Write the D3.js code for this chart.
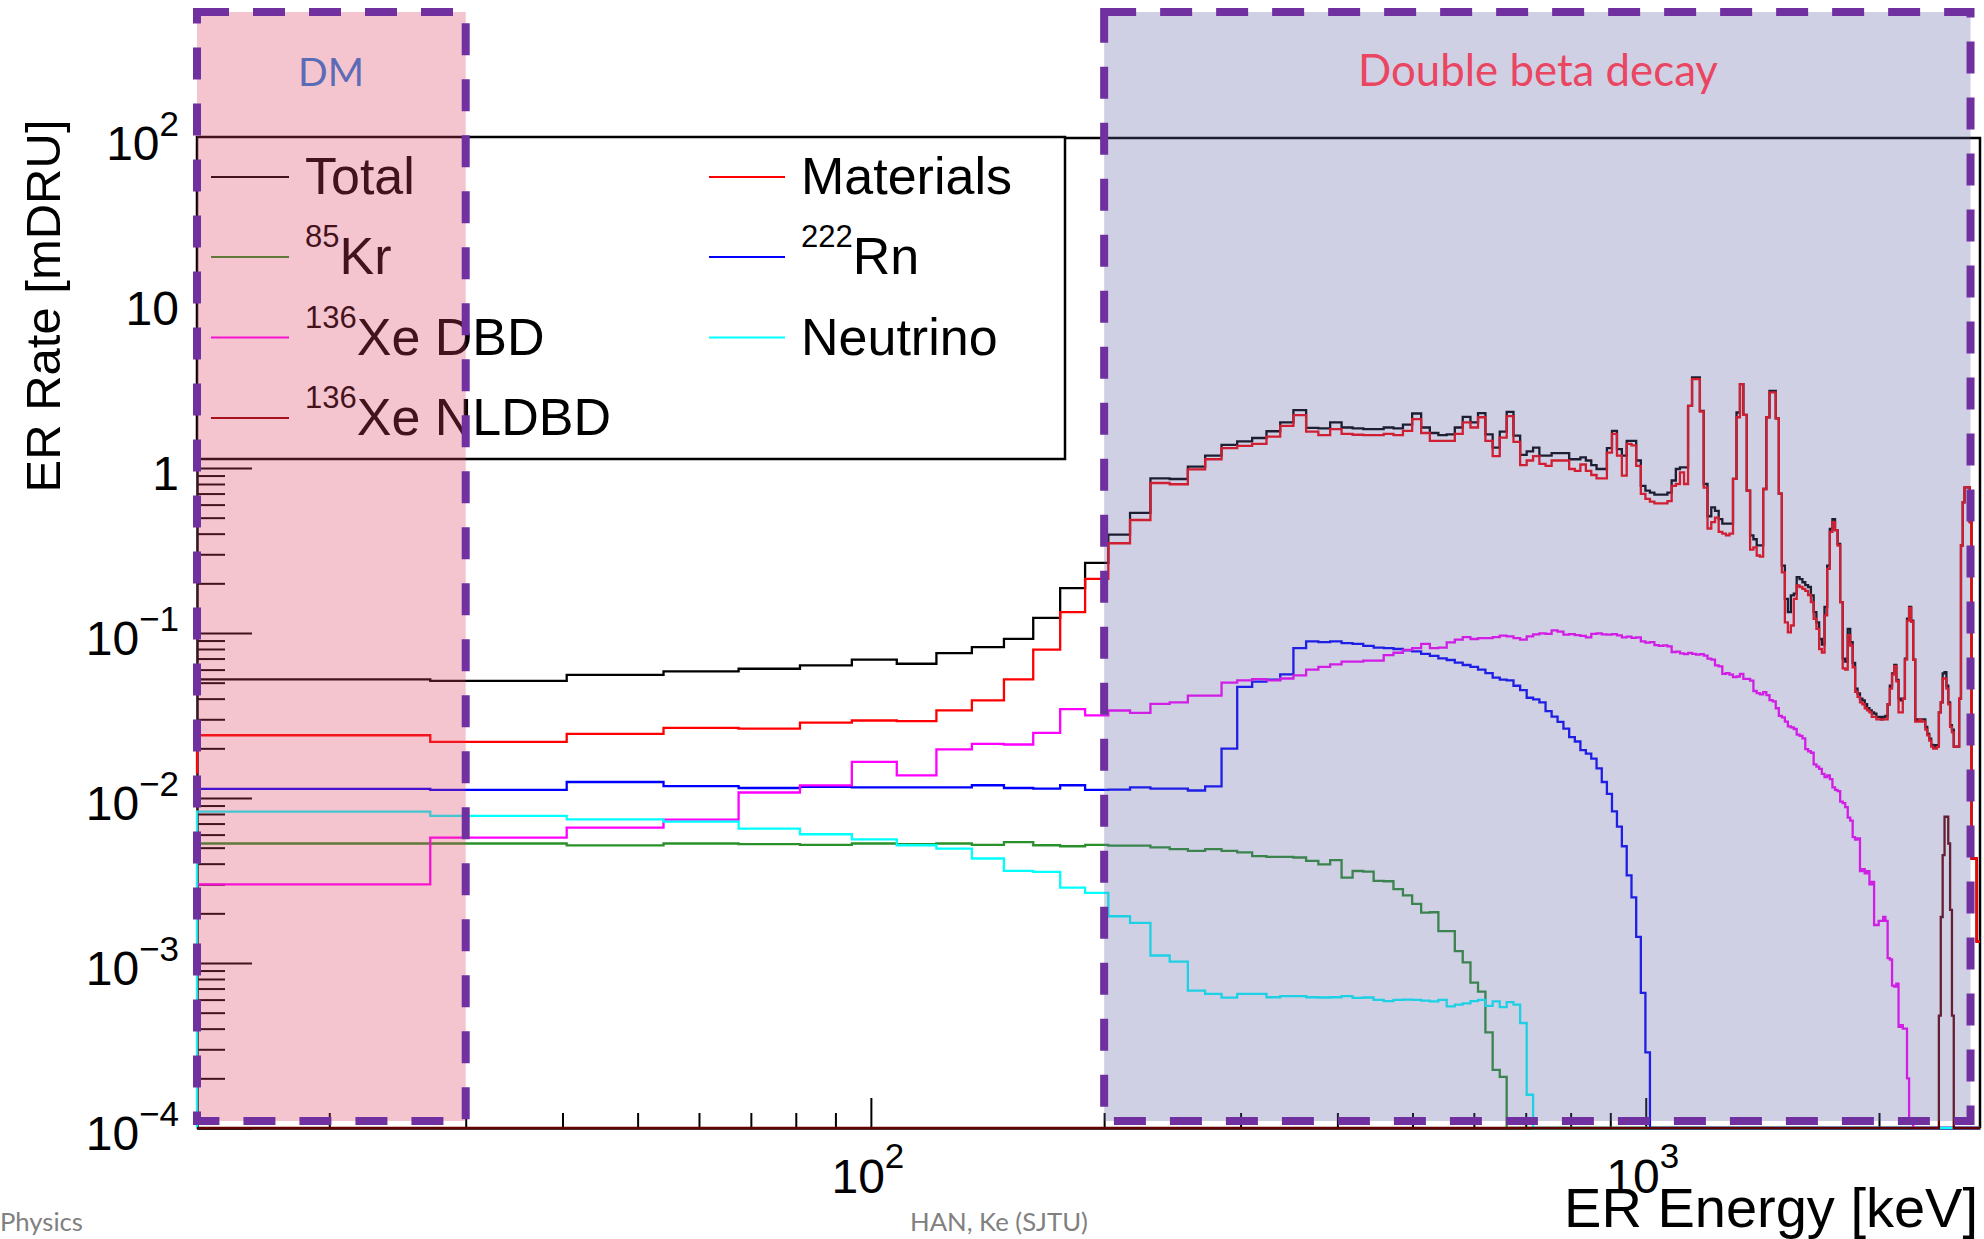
<!DOCTYPE html>
<html>
<head>
<meta charset="utf-8">
<script src="https://cdn.jsdelivr.net/npm/d3@7/dist/d3.min.js"></script>
<style>
html,body{margin:0;padding:0;background:#fff;}
svg{display:block;}
</style>
</head>
<body>
<svg id="chart" width="1984" height="1239"></svg>
<script>
// ---------------- DATA ----------------
// Histogram binning: 13.5 keV wide bins, visible bins 1..199 cover 13.5 - 2700 keV
const binWidthKeV = 13.5;
const nBins = 199;
const xDomain = [13.5, 2700];
const yDomain = [1e-4, 1e2];

// Rates in mDRU, bin contents from bin 1 (13.5-27 keV) upward. Missing trailing bins are empty.
// "...Start" = level drawn at the left edge of the axis before bin 1.
const totalStart = 0.0523;
const totalRate = [
0.0523,0.0512,0.0558,0.0585,0.0607,0.0636,0.0689,0.0651,0.0755,0.0822,
0.0922,0.1236,0.187,0.266,0.395,0.534,0.865,0.858,1.02,1.19,
1.38,1.45,1.52,1.67,1.89,2.24,1.75,1.74,1.89,1.76,
1.74,1.72,1.72,1.76,1.74,1.83,2.14,1.76,1.63,1.58,
1.60,1.76,2.04,1.89,2.15,1.60,1.33,1.66,2.19,1.57,
1.20,1.26,1.33,1.19,1.19,1.23,1.23,1.23,1.13,1.13,
1.16,1.11,1.04,0.986,0.986,1.32,1.68,1.30,1.19,1.46,
1.46,1.11,0.78,0.73,0.71,0.69,0.69,0.69,0.71,0.84,
0.986,1.01,1.01,2.38,3.54,3.54,2.22,0.80,0.51,0.578,
0.55,0.49,0.46,0.46,0.46,0.86,2.17,3.22,2.10,0.73,
0.39,0.37,0.34,0.34,0.746,2.03,2.93,2.93,2.0,0.70,
0.256,0.161,0.134,0.169,0.173,0.218,0.212,0.203,0.195,0.19,
0.169,0.134,0.116,0.092,0.085,0.144,0.256,0.427,0.49,0.42,
0.347,0.154,0.070,0.067,0.106,0.088,0.066,0.046,0.043,0.040,
0.039,0.037,0.035,0.034,0.033,0.0325,0.031,0.031,0.030,0.031,
0.0315,0.037,0.048,0.057,0.064,0.052,0.040,0.039,0.040,0.070,
0.122,0.144,0.119,0.069,0.0295,0.030,0.030,0.030,0.030,0.027,
0.0245,0.0229,0.021,0.0209,0.0205,0.0209,0.033,0.038,0.057,0.058,
0.048,0.038,0.0276,0.026,0.0205,0.0205,0.0205,0.040,0.339,0.62,
0.764,0.764,0.764,0.47,0.0043,0.0043,0.0043,0.00135,0.00135];

const materialsStart = 0.0141;
const materialsRate = [
0.024,0.0219,0.0245,0.0266,0.0263,0.0286,0.0295,0.0292,0.034,0.039,
0.0523,0.0794,0.1338,0.213,0.35,0.484,0.811,0.797,0.98,1.13,
1.32,1.36,1.40,1.55,1.80,2.09,1.66,1.58,1.72,1.61,
1.59,1.58,1.58,1.61,1.58,1.68,1.98,1.63,1.46,1.46,
1.46,1.61,1.89,1.76,2.03,1.46,1.18,1.53,2.06,1.44,
1.04,1.11,1.18,1.06,1.03,1.11,1.11,1.11,0.986,0.96,
1.05,0.96,0.907,0.866,0.866,1.24,1.61,1.19,0.90,1.40,
1.37,1.03,0.696,0.65,0.625,0.61,0.61,0.61,0.63,0.78,
0.80,0.94,0.80,2.38,3.46,3.46,2.20,0.76,0.43,0.47,
0.50,0.41,0.40,0.39,0.40,0.86,2.03,3.22,2.10,0.73,
0.32,0.33,0.295,0.29,0.746,2.03,2.87,2.87,2.0,0.70,
0.233,0.116,0.101,0.111,0.161,0.194,0.19,0.185,0.18,0.17,
0.154,0.122,0.106,0.080,0.076,0.128,0.245,0.41,0.47,0.42,
0.339,0.154,0.061,0.060,0.097,0.084,0.062,0.044,0.041,0.038,
0.037,0.035,0.034,0.033,0.031,0.031,0.030,0.030,0.030,0.030,
0.030,0.037,0.046,0.056,0.063,0.051,0.033,0.033,0.040,0.069,
0.119,0.142,0.117,0.069,0.029,0.029,0.030,0.029,0.029,0.026,
0.024,0.0223,0.0205,0.0199,0.0199,0.0204,0.033,0.038,0.053,0.053,
0.046,0.037,0.027,0.025,0.0205,0.0205,0.0205,0.040,0.339,0.62,
0.764,0.764,0.764,0.47,0.0043,0.0043,0.0043,0.00135,0.00135];

const kr85Start = 0.0053;
const kr85Rate = [
0.0053,0.0053,0.00516,0.0053,0.00526,0.0052,0.0053,0.00526,0.0053,0.0052,
0.0054,0.00517,0.0051,0.0052,0.00514,0.00514,0.00502,0.0049,0.00478,0.0049,
0.00478,0.00468,0.00444,0.0044,0.0044,0.00436,0.00416,0.00396,0.0042,0.00329,
0.00361,0.00358,0.00315,0.00313,0.0028,0.00257,0.00228,0.00202,0.00203,0.00156,
0.00156,0.00118,0.00101,0.00076,0.00067,0.00038,0.000225,0.000204];

const rn222Start = 0.01135;
const rn222Rate = [
0.01135,0.0112,0.0125,0.0118,0.0115,0.01167,0.0116,0.0116,0.0116,0.01195,
0.0115,0.0114,0.01195,0.0112,0.01124,0.0116,0.0114,0.0114,0.0111,0.01175,
0.0199,0.0472,0.0507,0.0521,0.0561,0.0809,0.089,0.0881,0.089,0.0868,
0.086,0.0835,0.0815,0.0809,0.080,0.0784,0.0773,0.0747,0.0726,0.0702,
0.0686,0.0661,0.064,0.0623,0.060,0.0572,0.0536,0.0521,0.0516,0.0479,
0.0451,0.0405,0.0396,0.038,0.0336,0.0311,0.0289,0.0263,0.0234,0.022,
0.0195,0.0186,0.0173,0.0151,0.0125,0.0106,0.0083,0.0067,0.0051,0.0034,
0.0025,0.00144,0.00066,0.000287];

const xeDbdStart = 0.0030;
const xeDbdRate = [
0.0030,0.00576,0.00662,0.0074,0.0108,0.01194,0.01654,0.01372,0.0197,0.0213,
0.0211,0.0248,0.0346,0.0317,0.0339,0.0328,0.0372,0.038,0.0417,0.0417,
0.0501,0.0516,0.0526,0.0516,0.053,0.0554,0.060,0.0623,0.0645,0.067,
0.067,0.068,0.068,0.0735,0.0759,0.079,0.0809,0.086,0.0809,0.0815,
0.0877,0.0911,0.0945,0.092,0.093,0.093,0.0945,0.0965,0.0955,0.093,
0.0911,0.0955,0.098,0.0995,0.0987,0.1036,0.102,0.0978,0.0985,0.0970,
0.096,0.094,0.0987,0.0995,0.0980,0.0978,0.0985,0.0968,0.094,0.0952,
0.0935,0.094,0.089,0.0875,0.088,0.0845,0.0835,0.0842,0.0830,0.0767,
0.0772,0.0752,0.0745,0.0758,0.0748,0.0740,0.0745,0.0730,0.0699,0.0690,
0.0636,0.0628,0.0566,0.0572,0.0560,0.054,0.0545,0.0566,0.0527,0.0527,
0.0515,0.0445,0.0432,0.0425,0.0438,0.0420,0.0392,0.0385,0.0350,0.0315,
0.0308,0.0290,0.0272,0.0268,0.0262,0.0242,0.0238,0.0230,0.0198,0.0192,
0.0188,0.0160,0.0155,0.0150,0.0140,0.0134,0.0137,0.0130,0.0116,0.0112,
0.0110,0.0095,0.0093,0.0088,0.0076,0.0073,0.0058,0.0056,0.0057,0.0036,
0.0037,0.0035,0.0036,0.0030,0.0031,0.0017,0.0017,0.0018,0.0018,0.0019,
0.0018,0.00107,0.00105,0.00073,0.00072,0.00075,0.00041,0.00042,0.0004,0.0004,
0.0002,0.00011,0.00011];

const neutrinoStart = 0;
const neutrinoRate = [
0.00827,0.0078,0.00743,0.0072,0.00653,0.00603,0.00562,0.00517,0.00494,0.0043,
0.00362,0.00357,0.00286,0.00266,0.00192,0.00175,0.00111,0.00102,0.00068,0.00065,
0.000616,0.00065,0.00065,0.00062,0.00063,0.00063,0.00062,0.000618,0.00062,0.00063,
0.000615,0.000618,0.000598,0.000587,0.000598,0.0006,0.000598,0.000592,0.000585,0.000598,
0.000546,0.00056,0.00057,0.000587,0.000598,0.00055,0.000585,0.00054,0.00058,0.00056,
0.000433,0.000159];

const xeNldbdStart = 0;
const xeNldbdFirstBin = 177;
const xeNldbdRate = [0.00048,0.0019,0.0045,0.0077,0.0077,0.0053,0.0021,0.00048];

// Axis ticks
const xMajorTicks = [100, 1000];
const xMajorLabels = [["10","2"],["10","3"]];
const xMinorTicks = [20,30,40,50,60,70,80,90,200,300,400,500,600,700,800,900,2000];
const yMajorTicks = [1e-4,1e-3,1e-2,1e-1,1,10,100];
const yMajorLabels = [["10","\u22124"],["10","\u22123"],["10","\u22122"],["10","\u22121"],["1",""],["10",""],["10","2"]];
const yMinorTicks = [];
[1e-4,1e-3,1e-2,1e-1,1,10].forEach(d => [2,3,4,5,6,7,8,9].forEach(m => yMinorTicks.push(m*d)));

// Highlighted energy windows (keV)
const dmWindow = [13.5, 30];
const dbdWindow = [200, 2625];

// ---------------- DRAWING ----------------
const W = 1984, H = 1239;
const plot = {left:197, right:1980, top:138, bottom:1128};
const svg = d3.select("#chart");
const ARIAL = "'Liberation Sans', Arial, Helvetica, sans-serif";
const CALIBRI = "Lato, 'Open Sans', sans-serif";

const x = d3.scaleLog().domain(xDomain).range([plot.left, plot.right]);
const y = d3.scaleLog().domain(yDomain).range([plot.bottom, plot.top]);

svg.append("rect").attr("width", W).attr("height", H).attr("fill", "#fff");

// Axes (ticks drawn inward, ROOT style)
const axG = svg.append("g");
axG.append("g").attr("transform", `translate(0,${plot.bottom})`)
  .call(d3.axisBottom(x).tickValues(xMinorTicks).tickSizeInner(-15).tickSizeOuter(0).tickFormat(() => ""));
const gxMajor = axG.append("g").attr("transform", `translate(0,${plot.bottom})`)
  .call(d3.axisBottom(x).tickValues(xMajorTicks).tickSizeInner(-30).tickSizeOuter(0).tickFormat(() => ""));
gxMajor.select(".domain").remove();
axG.append("g").attr("transform", `translate(${plot.left},0)`)
  .call(d3.axisLeft(y).tickValues(yMinorTicks).tickSizeInner(-28).tickSizeOuter(0).tickFormat(() => ""));
const gyMajor = axG.append("g").attr("transform", `translate(${plot.left},0)`)
  .call(d3.axisLeft(y).tickValues(yMajorTicks).tickSizeInner(-55).tickSizeOuter(0).tickFormat(() => ""));
gyMajor.select(".domain").remove();
axG.selectAll("line").attr("stroke", "#000").attr("stroke-width", 2);
axG.selectAll(".domain").attr("stroke", "#000").attr("stroke-width", 2.5);

// Frame top / right
svg.append("path")
  .attr("d", `M${plot.left},${y(yDomain[1])}H${plot.right}V${plot.bottom}`)
  .attr("fill", "none").attr("stroke", "#000").attr("stroke-width", 2.5);

// Histograms
function binLevels(start, values, firstBin) {
  const out = [start];
  for (let k = 1; k <= nBins; k++) {
    const i = k - firstBin;
    out.push(i >= 0 && i < values.length ? values[i] : 0);
  }
  return out;
}
function stepPoints(levels) {
  const pts = [[binWidthKeV * 1, levels[0]]];
  for (let k = 1; k <= nBins; k++) pts.push([binWidthKeV * k, levels[k]]);
  pts.push([binWidthKeV * (nBins + 1), levels[nBins]]);
  return pts;
}
const series = [
  {levels: binLevels(totalStart, totalRate, 1), color: "#000000"},
  {levels: binLevels(materialsStart, materialsRate, 1), color: "#ff0000"},
  {levels: binLevels(kr85Start, kr85Rate, 1), color: "#2a912a"},
  {levels: binLevels(rn222Start, rn222Rate, 1), color: "#0000ff"},
  {levels: binLevels(xeDbdStart, xeDbdRate, 1), color: "#ff00ff"},
  {levels: binLevels(neutrinoStart, neutrinoRate, 1), color: "#00ffff"},
  {levels: binLevels(xeNldbdStart, xeNldbdRate, xeNldbdFirstBin), color: "#660000"}
];

svg.append("defs").append("clipPath").attr("id", "plotClip")
  .append("rect").attr("x", plot.left - 2).attr("y", plot.top)
  .attr("width", plot.right - plot.left + 3).attr("height", plot.bottom - plot.top + 3);

const line = d3.line()
  .x(d => x(d[0]))
  .y(d => y(Math.max(d[1], yDomain[0])))
  .curve(d3.curveStepAfter);

const histG = svg.append("g").attr("clip-path", "url(#plotClip)");
series.forEach(s => {
  histG.append("path").attr("d", line(stepPoints(s.levels)))
    .attr("fill", "none").attr("stroke", s.color).attr("stroke-width", 2.3)
    .attr("stroke-linejoin", "miter");
});

// Legend
const legend = {x: 197, y: 137, w: 868, h: 322};
svg.append("rect").attr("x", legend.x).attr("y", legend.y).attr("width", legend.w).attr("height", legend.h)
  .attr("fill", "#fff").attr("stroke", "#000").attr("stroke-width", 2.5);
const legendItems = [
  {sup:"", text:"Total", color:"#000000", col:0, row:0},
  {sup:"", text:"Materials", color:"#ff0000", col:1, row:0},
  {sup:"85", text:"Kr", color:"#2a912a", col:0, row:1},
  {sup:"222", text:"Rn", color:"#0000ff", col:1, row:1},
  {sup:"136", text:"Xe DBD", color:"#ff00ff", col:0, row:2},
  {sup:"", text:"Neutrino", color:"#00ffff", col:1, row:2},
  {sup:"136", text:"Xe NLDBD", color:"#8b0000", col:0, row:3}
];
const colX = [{l0:211, l1:289, t:305}, {l0:709, l1:785, t:801}];
const rowY = [177, 257, 337.5, 418];
legendItems.forEach(it => {
  const c = colX[it.col], ry = rowY[it.row];
  svg.append("line").attr("x1", c.l0).attr("x2", c.l1).attr("y1", ry).attr("y2", ry)
    .attr("stroke", it.color).attr("stroke-width", 2.2);
  const t = svg.append("text").attr("x", c.t).attr("y", ry + 17)
    .attr("font-family", ARIAL).attr("font-size", 52).attr("fill", "#000");
  if (it.sup) {
    t.append("tspan").attr("font-size", 31).attr("dy", -27).text(it.sup);
    t.append("tspan").attr("dy", 27).text(it.text);
  } else {
    t.text(it.text);
  }
});

// Tick labels
yMajorTicks.forEach((v, i) => {
  const [base, ex] = yMajorLabels[i];
  const ty = y(v);
  const t = svg.append("text").attr("x", 179).attr("y", ty + 22)
    .attr("text-anchor", "end").attr("font-family", ARIAL).attr("font-size", 48).attr("fill", "#000");
  t.append("tspan").text(base);
  if (ex) t.append("tspan").attr("font-size", 35).attr("dy", -24).text(ex);
});
xMajorTicks.forEach((v, i) => {
  const [base, ex] = xMajorLabels[i];
  const t = svg.append("text").attr("x", x(v) - 3).attr("y", 1193)
    .attr("text-anchor", "middle").attr("font-family", ARIAL).attr("font-size", 48).attr("fill", "#000");
  t.append("tspan").text(base);
  if (ex) t.append("tspan").attr("font-size", 35).attr("dy", -25).text(ex);
});

// Axis titles
svg.append("text").attr("transform", "translate(60,306) rotate(-90)")
  .attr("text-anchor", "middle").attr("font-family", ARIAL).attr("font-size", 49).attr("fill", "#000")
  .text("ER Rate [mDRU]");
svg.append("text").attr("x", 1978).attr("y", 1227)
  .attr("text-anchor", "end").attr("font-family", ARIAL).attr("font-size", 56).attr("fill", "#000")
  .text("ER Energy [keV]");

// Highlight windows (semi-transparent overlays + dashed borders)
const boxTop = 12, boxBottom = 1121;
function windowBox(xr, fill) {
  const x0 = xr[0], x1 = xr[1];
  svg.append("rect").attr("x", x0).attr("y", boxTop).attr("width", x1 - x0).attr("height", boxBottom - boxTop)
    .attr("fill", fill).attr("fill-opacity", 0.3);
  svg.append("rect").attr("x", x0).attr("y", boxTop).attr("width", x1 - x0).attr("height", boxBottom - boxTop)
    .attr("fill", "none").attr("stroke", "#7030a0").attr("stroke-width", 8).attr("stroke-dasharray", "32 24");
}
windowBox([x(dmWindow[0]), x(dmWindow[1])], "rgb(222,63,97)");
windowBox([x(dbdWindow[0]), x(dbdWindow[1])], "rgb(100,100,167)");

function fitText(sel, target) {
  const w = sel.node().getComputedTextLength();
  const fs = parseFloat(sel.attr("font-size"));
  if (w > 0) sel.attr("font-size", fs * target / w);
}
const dmText = svg.append("text").attr("x", 331).attr("y", 86).attr("text-anchor", "middle")
  .attr("font-family", CALIBRI).attr("font-size", 42).attr("fill", "#5b6bb5").text("DM");
fitText(dmText, 66);
const dbdText = svg.append("text").attr("x", 1538).attr("y", 86).attr("text-anchor", "middle")
  .attr("font-family", CALIBRI).attr("font-size", 42).attr("fill", "#ea4662").text("Double beta decay");
fitText(dbdText, 360);

// Footer
const f1 = svg.append("text").attr("x", 0).attr("y", 1231).attr("font-family", CALIBRI)
  .attr("font-size", 24).attr("fill", "#808080").text("Physics");
fitText(f1, 83);
const f2 = svg.append("text").attr("x", 910).attr("y", 1231).attr("font-family", CALIBRI)
  .attr("font-size", 24).attr("fill", "#808080").text("HAN, Ke (SJTU)");
fitText(f2, 178);
</script>
</body>
</html>
